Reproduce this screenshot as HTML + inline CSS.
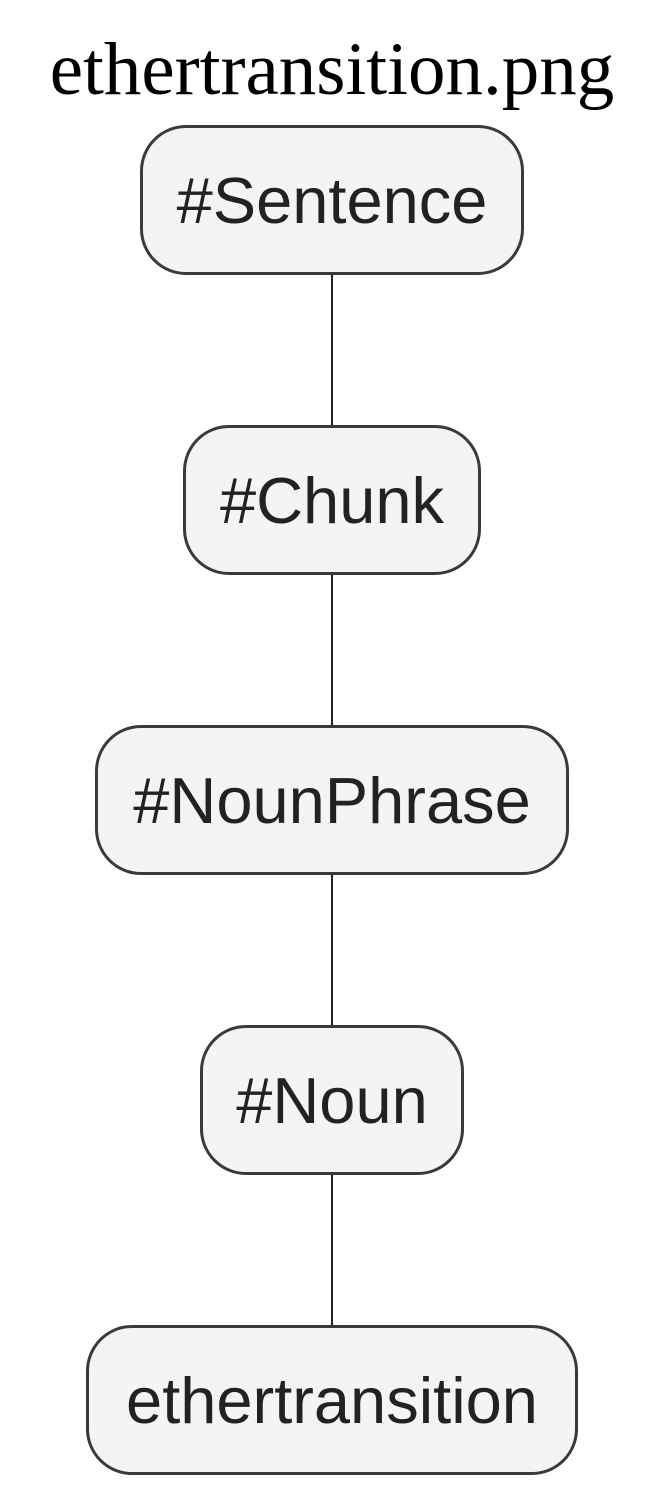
<!DOCTYPE html>
<html><head><style>
body{margin:0;background:#fff;width:664px;height:1492px;position:relative;overflow:hidden}
.t{position:absolute;left:0;width:664px;top:30px;text-align:center;font:75px "Liberation Serif",serif;line-height:80px;color:#000}
.b{position:absolute;box-sizing:border-box;height:150px;border:3px solid #3a3a3a;border-radius:46px;background:#f4f4f4;font:65px "Liberation Sans",sans-serif;color:#222;display:flex;align-items:center;justify-content:center}
.l{position:absolute;left:331px;width:2px;height:150px;background:#222}
</style></head><body>
<div class="t">ethertransition.png</div>
<div class="l" style="top:275px"></div>
<div class="l" style="top:575px"></div>
<div class="l" style="top:875px"></div>
<div class="l" style="top:1175px"></div>
<div class="b" style="left:140px;width:384px;top:125px">#Sentence</div>
<div class="b" style="left:183px;width:298px;top:425px">#Chunk</div>
<div class="b" style="left:95px;width:474px;top:725px">#NounPhrase</div>
<div class="b" style="left:200px;width:264px;top:1025px">#Noun</div>
<div class="b" style="left:86px;width:492px;top:1325px">ethertransition</div>
</body></html>
